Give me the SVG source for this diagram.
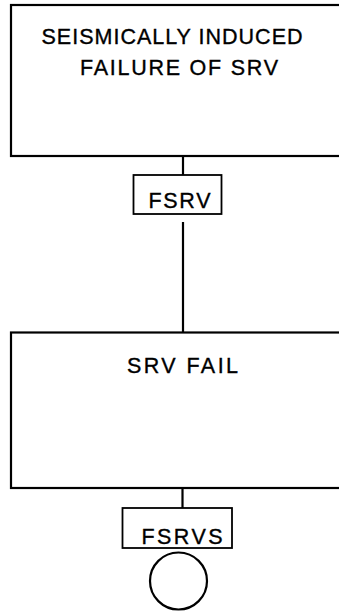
<svg xmlns="http://www.w3.org/2000/svg" width="339" height="614" viewBox="0 0 339 614">
<style>
.box{fill:none;stroke:#000;stroke-width:2.2}
.lbl{fill:none;stroke:#000;stroke-width:1.8}
.ln{stroke:#000;stroke-width:2.2;fill:none}
text{font-family:"Liberation Sans",Arial,sans-serif;fill:#000;stroke:#000;stroke-width:0.35}
.t1{font-size:21.5px}
</style>
<rect width="339" height="614" fill="#fff"/>
<g id="gate-top">
<rect class="box" x="11" y="5" width="340" height="151"/>
<text class="t1" x="41.5" y="44" textLength="261" lengthAdjust="spacing">SEISMICALLY INDUCED</text>
<text class="t1" x="80" y="74.5" textLength="198" lengthAdjust="spacing">FAILURE OF SRV</text>
</g>
<g id="label-fsrv">
<rect class="lbl" x="133.5" y="175" width="88" height="39"/>
<text class="t1" x="148.5" y="207.5" textLength="62" lengthAdjust="spacing">FSRV</text>
</g>
<g id="gate-srvfail">
<rect class="box" x="11" y="332.5" width="340" height="155.5"/>
<text class="t1" x="127" y="373" textLength="111" lengthAdjust="spacing">SRV FAIL</text>
</g>
<g id="label-fsrvs">
<rect class="lbl" x="122.5" y="508" width="109.5" height="40"/>
<text class="t1" x="141.5" y="543.5" textLength="81" lengthAdjust="spacing">FSRVS</text>
</g>
<g id="event-fsrvs">
<circle class="box" cx="178.5" cy="581" r="28.5"/>
</g>
<g id="connectors">
<line class="ln" x1="183" y1="156" x2="183" y2="175"/>
<line class="ln" x1="183" y1="222" x2="183" y2="332.5"/>
<line class="ln" x1="182.5" y1="488" x2="182.5" y2="508"/>
</g>
</svg>
